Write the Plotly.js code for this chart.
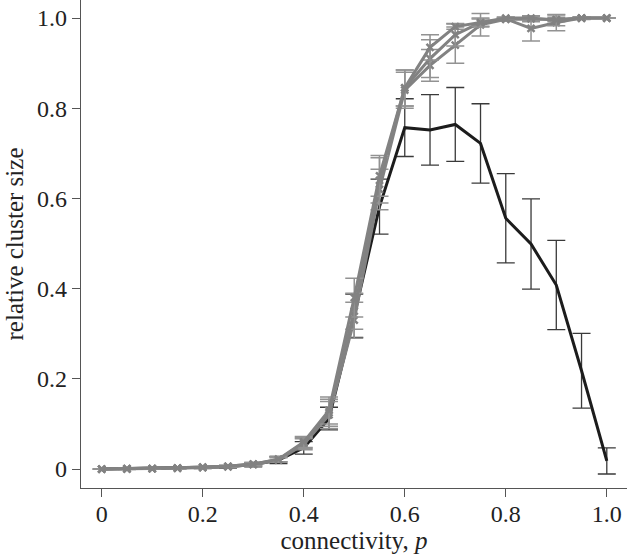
<!DOCTYPE html>
<html>
<head>
<meta charset="utf-8">
<script src="https://cdn.plot.ly/plotly-3.0.1.min.js"></script>
<style>html,body{margin:0;padding:0;background:#fff;}#chart{width:627px;height:556px;}</style>
</head>
<body>
<div id="chart"></div>
<script>
var p = [0,0.05,0.1,0.15,0.2,0.25,0.3,0.35,0.4,0.45,0.5,0.55,0.6,0.65,0.7,0.75,0.8,0.85,0.9,0.95,1.0];

var blackY   = [0,0.001,0.001,0.002,0.003,0.005,0.01,0.02,0.047,0.112,0.34,0.582,0.757,0.752,0.764,0.722,0.556,0.499,0.408,0.218,0.018];
var blackErr = [0,0.001,0.001,0.001,0.002,0.003,0.005,0.008,0.014,0.025,0.048,0.061,0.064,0.078,0.082,0.088,0.099,0.10,0.099,0.083,0.029];

var grayA    = [0,0.001,0.001,0.002,0.004,0.006,0.011,0.022,0.06,0.13,0.38,0.65,0.845,0.935,0.981,0.99,1.0,1.0,0.995,1.0,1.0];
var grayAErr = [0,0.001,0.001,0.001,0.001,0.002,0.003,0.006,0.012,0.03,0.043,0.045,0.04,0.028,0.006,0.008,0.002,0.005,0.012,0.002,0];
var grayB    = [0,0.001,0.001,0.002,0.004,0.006,0.011,0.021,0.058,0.125,0.35,0.64,0.845,0.91,0.963,0.99,0.998,0.977,0.99,1.0,1.0];
var grayBErr = [0,0.001,0.001,0.001,0.001,0.002,0.003,0.005,0.012,0.03,0.04,0.05,0.04,0.042,0.025,0.01,0.004,0.028,0.018,0.003,0];
var grayC    = [0,0,0.001,0.002,0.003,0.005,0.01,0.02,0.055,0.12,0.33,0.62,0.84,0.895,0.94,0.985,0.997,0.998,0.997,1.0,1.0];
var grayCErr = [0,0.001,0.001,0.001,0.001,0.002,0.003,0.005,0.012,0.03,0.04,0.045,0.04,0.035,0.04,0.025,0.004,0.006,0.005,0.002,0];

var tickVals = [0,0.2,0.4,0.6,0.8,1.0];
var tickText = ['0','0.2','0.4','0.6','0.8','1.0'];

function grayTrace(y, e) {
  return {
    x: p, y: y, type: 'scatter', mode: 'lines+markers',
    line: {color: '#828282', width: 3},
    marker: {symbol: 'x-thin-open', size: 7, color: '#828282', line: {color: '#828282', width: 2.5}},
    error_y: {type: 'data', array: e, visible: true, color: '#929292', thickness: 1.5, width: 9},
    showlegend: false, hoverinfo: 'skip'
  };
}

var traces = [
  {
    x: p, y: blackY, type: 'scatter', mode: 'lines',
    line: {color: '#1c1c1c', width: 3},
    error_y: {type: 'data', array: blackErr, visible: true, color: '#3a3a3a', thickness: 1.3, width: 9},
    showlegend: false, hoverinfo: 'skip'
  },
  grayTrace(grayC, grayCErr),
  grayTrace(grayB, grayBErr),
  grayTrace(grayA, grayAErr)
];

var serif = 'Liberation Serif';
var axisFont = {family: serif, size: 24, color: '#222'};
var layout = {
  width: 627, height: 556,
  margin: {l: 81, r: 0, t: 0, b: 68},
  paper_bgcolor: '#fff', plot_bgcolor: '#fff',
  showlegend: false,
  xaxis: {
    range: [-0.041, 1.04], tickvals: tickVals, ticktext: tickText,
    ticks: 'outside', ticklen: 8, tickwidth: 1, tickcolor: '#555',
    ticklabelstandoff: -4,
    showline: true, linecolor: '#555', linewidth: 1.2,
    showgrid: false, zeroline: false, tickfont: axisFont,
    title: {text: 'connectivity, <i>p</i>', font: {family: serif, size: 25, color: '#222'}, standoff: 2}
  },
  yaxis: {
    range: [-0.042, 1.04], tickvals: tickVals, ticktext: tickText,
    ticks: 'outside', ticklen: 8, tickwidth: 1, tickcolor: '#555',
    showline: true, linecolor: '#555', linewidth: 1.2,
    showgrid: false, zeroline: false, tickfont: axisFont,
    title: {text: 'relative cluster size', font: {family: serif, size: 25, color: '#222'}, standoff: 6}
  }
};

Plotly.newPlot('chart', traces, layout, {staticPlot: true, displayModeBar: false});
</script>
</body>
</html>
